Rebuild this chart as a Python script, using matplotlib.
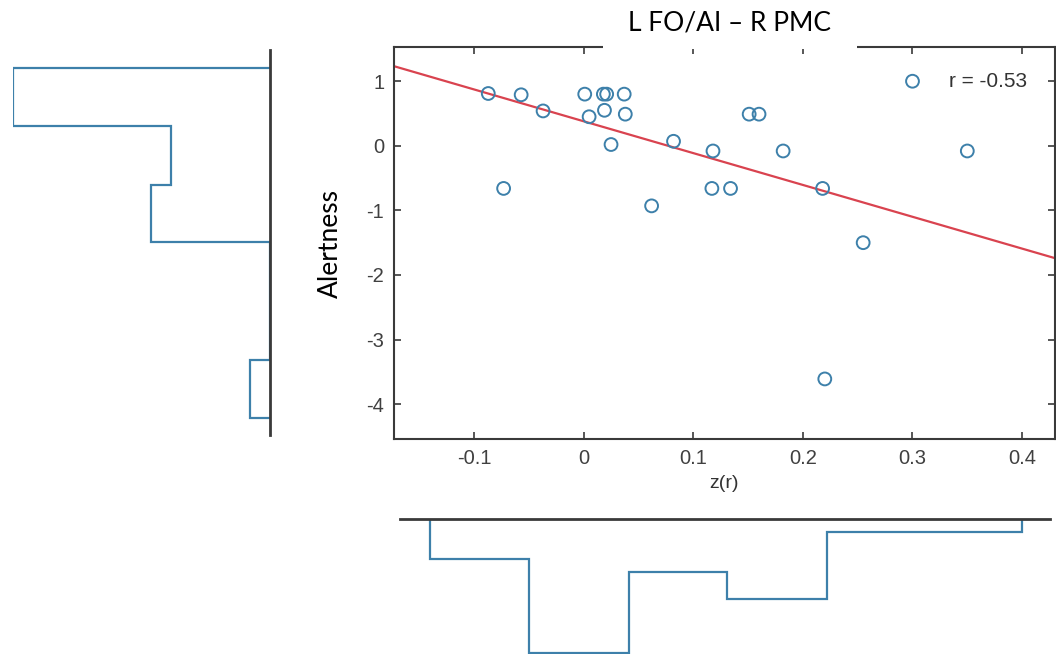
import numpy as np
import matplotlib.pyplot as plt
from matplotlib.patches import Rectangle

plt.rcParams['font.family'] = ['Liberation Sans', 'DejaVu Sans']
plt.rcParams['axes.unicode_minus'] = False

# точки (z(r), Alertness)
z_r = [-0.087, -0.057, -0.037, 0.001, 0.005, 0.018, 0.021, 0.019, 0.037, 0.038,
       0.025, 0.082, 0.118, 0.151, 0.160, 0.182, 0.300, 0.350, -0.073, 0.117,
       0.134, 0.218, 0.062, 0.255, 0.220]
alertness = [0.81, 0.79, 0.54, 0.80, 0.45, 0.80, 0.80, 0.55, 0.80, 0.49,
             0.02, 0.07, -0.08, 0.49, 0.49, -0.08, 1.00, -0.08, -0.66, -0.66,
             -0.66, -0.66, -0.93, -1.50, -3.61]

# линия регрессии
fit_slope = -4.93
fit_intercept = 0.38

# гистограммы
hist_x_edges = [-0.140, -0.050, 0.041, 0.131, 0.222, 0.312, 0.400]
hist_x_counts = [3, 10, 4, 6, 1, 1]
hist_y_edges = [-4.21, -3.31, -2.40, -1.49, -0.61, 0.30, 1.20]
hist_y_counts = [1, 0, 0, 6, 5, 13]

x_ticks = [-0.1, 0, 0.1, 0.2, 0.3, 0.4]
x_ticklabels = ["-0.1", "0", "0.1", "0.2", "0.3", "0.4"]
y_ticks = [-4, -3, -2, -1, 0, 1]

W, H = 1056, 654
blue = "#3d80aa"
red = "#d9434f"
dark = "#3a3a3a"


def px(left, top, right, bottom):
    return [left / W, 1 - bottom / H, (right - left) / W, (bottom - top) / H]


fig = plt.figure(figsize=(W / 100, H / 100), dpi=100)

# основной график
ax = fig.add_axes(px(394, 47, 1055, 439))
ax.scatter(z_r, alertness, s=85, facecolors="none", edgecolors=blue, linewidths=1.4, zorder=3)
xlim = (-0.173, 0.430)
xs = np.array(xlim)
ax.plot(xs, fit_slope * xs + fit_intercept, color=red, lw=1.6, zorder=2)
ax.set_xlim(xlim)
ax.set_ylim(-4.54, 1.53)
ax.set_xticks(x_ticks)
ax.set_xticklabels(x_ticklabels)
ax.set_yticks(y_ticks)
ax.tick_params(direction="in", length=5, width=1.2, colors=dark, labelcolor="#404040",
               labelsize=14.5, top=True, right=True, pad=7)
for s in ax.spines.values():
    s.set_color(dark)
    s.set_linewidth(1.5)
ax.set_xlabel("z(r)", fontsize=14, color="#333333", labelpad=5)
ax.set_ylabel("Alertness", fontsize=19, family="Lato", color="black")
ax.yaxis.set_label_coords(-0.078, 0.5)
ax.text(0.405, 1.0, "r = -0.53", fontsize=15, color="#333333", ha="right", va="center")

# левая гистограмма
axl = fig.add_axes(px(13, 50, 270, 435))
axl.stairs(hist_y_counts, hist_y_edges, orientation="horizontal", baseline=0,
           color=blue, lw=1.6)
axl.set_xlim(13, 0)
axl.set_ylim(-4.47, 1.48)
axl.axis("off")
axl.axvline(0, color=dark, lw=2, clip_on=False)

# нижняя гистограмма
axb = fig.add_axes(px(400, 519, 1050, 654))
axb.stairs(hist_x_counts, hist_x_edges, baseline=0, color=blue, lw=1.6)
axb.set_xlim(-0.1675, 0.4255)
axb.set_ylim(10.1, 0)
axb.axis("off")
axb.axhline(0, color=dark, lw=2, clip_on=False)

# заголовок на белой плашке
fig.add_artist(Rectangle((603 / W, 1 - 49 / H), 254 / W, 49 / H, transform=fig.transFigure,
                         facecolor="white", edgecolor="none", zorder=5))
fig.text(730 / W, 1 - 23 / H, "L FO/AI – R PMC", fontsize=19, family="Lato",
         ha="center", va="center", zorder=6)

fig.savefig("out.png", dpi=100)
